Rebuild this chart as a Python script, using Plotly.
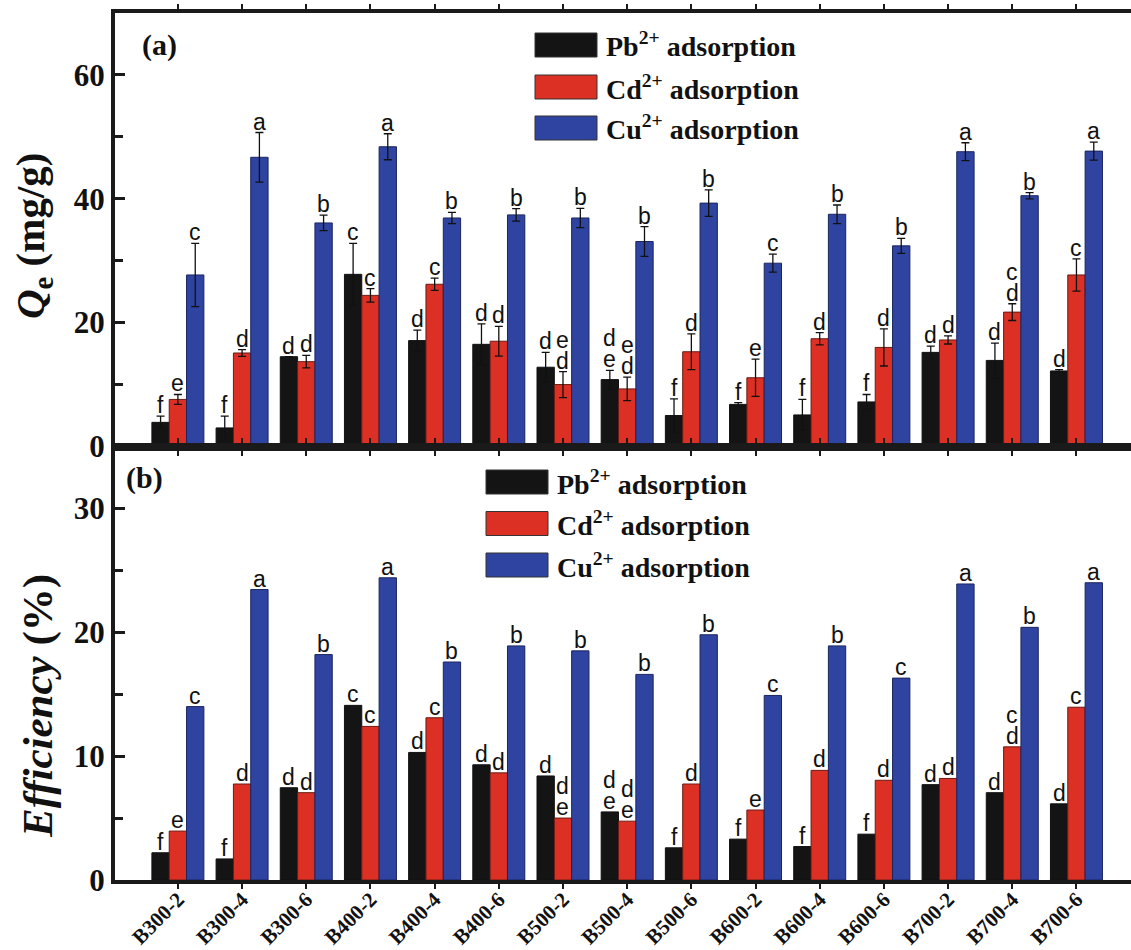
import plotly.graph_objects as go
from plotly.subplots import make_subplots

categories = ["B300-2", "B300-4", "B300-6", "B400-2", "B400-4", "B400-6", "B500-2", "B500-4",
              "B500-6", "B600-2", "B600-4", "B600-6", "B700-2", "B700-4", "B700-6"]

# Panel (a): Qe (mg/g)
qe_pb = [3.9, 3.0, 14.5, 27.8, 17.1, 16.5, 12.8, 10.8, 5.0, 6.8, 5.1, 7.2, 15.2, 13.9, 12.2]
qe_pb_err = [1.0, 1.9, 0.0, 5.0, 1.7, 3.3, 2.4, 1.5, 2.7, 0.3, 2.5, 1.2, 1.0, 2.8, 0.2]
qe_cd = [7.6, 15.1, 13.7, 24.4, 26.2, 17.0, 10.0, 9.3, 15.3, 11.1, 17.4, 16.0, 17.2, 21.7, 27.7]
qe_cd_err = [0.8, 0.55, 1.0, 1.1, 1.0, 2.4, 2.1, 1.9, 2.9, 3.0, 1.0, 3.0, 0.65, 1.35, 2.6]
qe_cu = [27.7, 46.7, 36.1, 48.4, 36.9, 37.4, 36.9, 33.1, 39.3, 29.6, 37.5, 32.4, 47.6, 40.5, 47.7]
qe_cu_err = [5.1, 4.0, 1.25, 2.1, 0.9, 1.0, 1.55, 2.4, 2.15, 1.45, 1.5, 1.2, 1.45, 0.5, 1.45]

# Panel (b): Efficiency (%)
eff_pb = [2.2, 1.7, 7.45, 14.1, 10.3, 9.3, 8.4, 5.5, 2.6, 3.3, 2.7, 3.7, 7.7, 7.05, 6.15]
eff_cd = [3.95, 7.75, 7.05, 12.4, 13.1, 8.65, 5.0, 4.75, 7.75, 5.65, 8.85, 8.05, 8.2, 10.75, 13.95]
eff_cu = [14.0, 23.45, 18.2, 24.4, 17.6, 18.9, 18.5, 16.6, 19.8, 14.9, 18.9, 16.3, 23.9, 20.4, 24.0]

# Significance letters (top line first, "\n" separates stacked lines)
let_a_pb = ["f", "f", "d", "c", "d", "d", "d", "d\ne", "f", "f", "f", "f", "d", "d", "d"]
let_a_cd = ["e", "d", "d", "c", "c", "d", "e\nd", "e\nd", "d", "e", "d", "d", "d", "c\nd", "c"]
let_a_cu = ["c", "a", "b", "a", "b", "b", "b", "b", "b", "c", "b", "b", "a", "b", "a"]
let_b_pb = ["f", "f", "d", "c", "d", "d", "d", "d\ne", "f", "f", "f", "f", "d", "d", "d"]
let_b_cd = ["e", "d", "d", "c", "c", "d", "d\ne", "d\ne", "d", "e", "d", "d", "d", "c\nd", "c"]
let_b_cu = ["c", "a", "b", "a", "b", "b", "b", "b", "b", "c", "b", "c", "a", "b", "a"]

series_names = ["Pb<sup>2+</sup> adsorption", "Cd<sup>2+</sup> adsorption", "Cu<sup>2+</sup> adsorption"]
colors = ["#141414", "#dd3024", "#2f44a0"]
outline = ["#111111", "#6a1a12", "#1a2560"]

W, H = 1131, 950
ML, MR, MT, MB = 115, 0, 13, 70
PW, PH = W - ML - MR, H - MT - MB

def px(xp):
    return (xp - ML) / PW

def py(yp):
    return (H - MB - yp) / PH

SERIF = "Liberation Serif"
SANS = "Liberation Sans"

fig = make_subplots(rows=2, cols=1, shared_xaxes=True, vertical_spacing=0)

BARGAP = 0.19
bw = (1 - BARGAP) / 3

top_vals = [qe_pb, qe_cd, qe_cu]
top_errs = [qe_pb_err, qe_cd_err, qe_cu_err]
bot_vals = [eff_pb, eff_cd, eff_cu]

for i in range(3):
    fig.add_trace(go.Bar(x=categories, y=top_vals[i], name=series_names[i],
                         marker=dict(color=colors[i], line=dict(color=outline[i], width=1)),
                         error_y=dict(type="data", array=top_errs[i], visible=True,
                                      color="#111111", thickness=1.3, width=4),
                         showlegend=False), row=1, col=1)
for i in range(3):
    fig.add_trace(go.Bar(x=categories, y=bot_vals[i], name=series_names[i],
                         marker=dict(color=colors[i], line=dict(color=outline[i], width=1)),
                         showlegend=False), row=2, col=1)

annotations = []

def add_letters(letters, tops, offset, xref, yref, base_shift):
    for j, (lab, t) in enumerate(zip(letters, tops)):
        lines = lab.split("\n")
        n = len(lines)
        for k, ln in enumerate(lines):
            annotations.append(dict(
                x=j + offset, y=t, xref=xref, yref=yref, text=ln, showarrow=False,
                xanchor="center", yanchor="bottom", borderpad=0,
                yshift=base_shift + 21 * (n - 1 - k),
                font=dict(family=SANS, size=23, color="#111111")))

offsets = [-bw, 0, bw]
let_a = [let_a_pb, let_a_cd, let_a_cu]
let_b = [let_b_pb, let_b_cd, let_b_cu]
for i in range(3):
    tops = [v + e for v, e in zip(top_vals[i], top_errs[i])]
    add_letters(let_a[i], tops, offsets[i], "x", "y", -3)
    add_letters(let_b[i], bot_vals[i], offsets[i], "x2", "y2", -3)

# y-axis titles
annotations.append(dict(x=px(33), y=py(236), xref="paper", yref="paper",
                        text="<i>Q</i><sub>e</sub> (mg/g)", textangle=-90, showarrow=False,
                        xanchor="center", yanchor="middle",
                        font=dict(family=SERIF, size=41, color="#111111", weight="bold")))
annotations.append(dict(x=px(38), y=py(706), xref="paper", yref="paper",
                        text="<i>Efficiency</i> (%)", textangle=-90, showarrow=False,
                        xanchor="center", yanchor="middle",
                        font=dict(family=SERIF, size=43, color="#111111", weight="bold")))

# panel labels
annotations.append(dict(x=px(140), y=py(45), xref="paper", yref="paper", text="(a)",
                        showarrow=False, xanchor="left", yanchor="middle",
                        font=dict(family=SERIF, size=30, color="#111111", weight="bold")))
annotations.append(dict(x=px(124), y=py(478), xref="paper", yref="paper", text="(b)",
                        showarrow=False, xanchor="left", yanchor="middle",
                        font=dict(family=SERIF, size=30, color="#111111", weight="bold")))

# legends drawn as boxes + text
shapes = []
def legend_block(x0, x1, ycs, tx):
    for i, yc in enumerate(ycs):
        shapes.append(dict(type="rect", xref="paper", yref="paper",
                           x0=px(x0), x1=px(x1), y0=py(yc + 12), y1=py(yc - 12),
                           fillcolor=colors[i], line=dict(color="#333333", width=1)))
        annotations.append(dict(x=px(tx), y=py(yc), xref="paper", yref="paper",
                                text=series_names[i], showarrow=False,
                                xanchor="left", yanchor="middle",
                                font=dict(family=SERIF, size=28, color="#111111", weight="bold")))

legend_block(535, 597, [45, 87, 128], 604)
legend_block(486, 548, [482, 523.5, 565], 555)

xr = [-0.98, 14.85]
axis_common = dict(showline=True, linewidth=4, linecolor="#1a1a1a", showgrid=False,
                   zeroline=False)

fig.update_xaxes(range=xr, mirror="ticks", ticks="outside", ticklen=5, tickwidth=2,
                 tickcolor="#1a1a1a", **axis_common)
fig.update_xaxes(showticklabels=False, row=1, col=1)
fig.update_xaxes(showticklabels=True, tickangle=-45, ticklabelstandoff=-10, automargin=False,
                 row=2, col=1,
                 tickfont=dict(family=SERIF, size=21, color="#111111", weight="bold"))

ytick_font = dict(family=SERIF, size=31, color="#111111", weight="bold")
fig.update_yaxes(range=[0, 70], tickvals=[0, 20, 40, 60], ticks="inside", ticklen=10,
                 tickwidth=3, tickcolor="#1a1a1a", tickfont=ytick_font,
                 minor=dict(ticks="inside", ticklen=8, tickwidth=3, tickcolor="#1a1a1a",
                            tickvals=[10, 30, 50]),
                 row=1, col=1, **axis_common)
fig.update_yaxes(range=[0, 35], tickvals=[0, 10, 20, 30], ticks="inside", ticklen=10,
                 tickwidth=3, tickcolor="#1a1a1a", tickfont=ytick_font,
                 minor=dict(ticks="inside", ticklen=8, tickwidth=3, tickcolor="#1a1a1a",
                            tickvals=[5, 15, 25]),
                 row=2, col=1, **axis_common)

fig.update_layout(width=W, height=H, margin=dict(l=ML, r=MR, t=MT, b=MB),
                  paper_bgcolor="white", plot_bgcolor="white",
                  barmode="group", bargap=BARGAP, bargroupgap=0,
                  showlegend=False, annotations=annotations, shapes=shapes)

fig.write_html("out.html")
